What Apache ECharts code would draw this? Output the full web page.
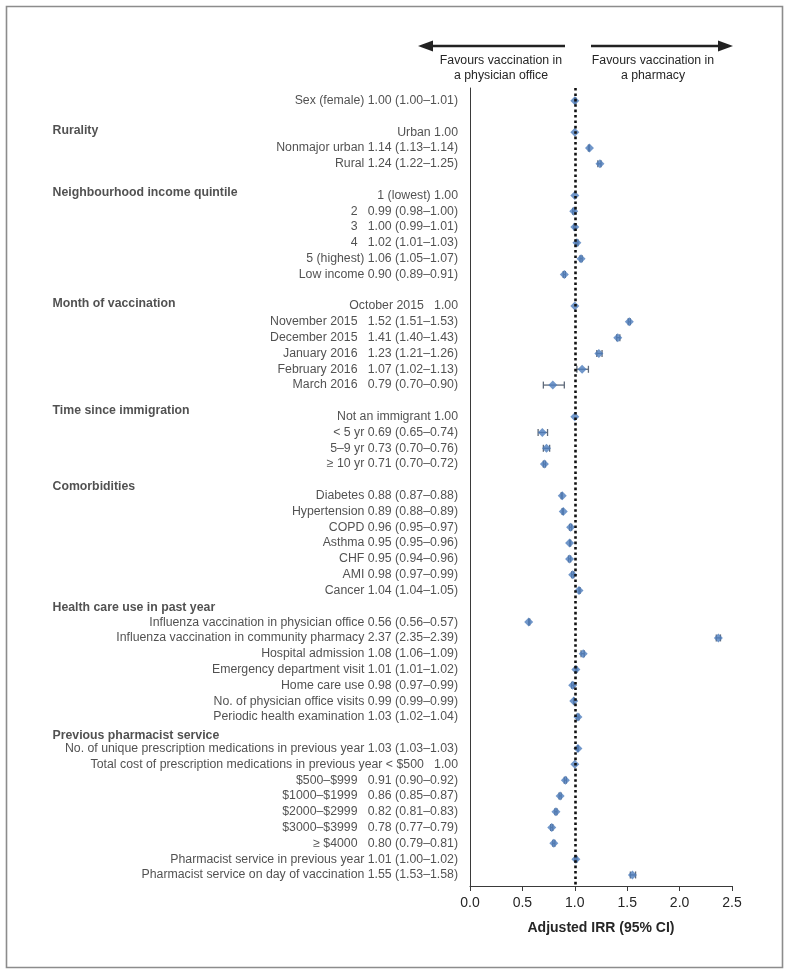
<!DOCTYPE html>
<html><head><meta charset="utf-8">
<script src="https://cdn.jsdelivr.net/npm/echarts@6/dist/echarts.min.js"></script>
<style>html,body{margin:0;padding:0;background:#fff}#c{width:791px;height:976px}</style>
</head><body><div id="c"></div>
<script>
// ---- Data (row order top to bottom; null = blank/header row) ----
const rowNames = [
  'Sex (female) ', null,
  'Urban ', 'Nonmajor urban ', 'Rural ', null,
  '1 (lowest) ', '2   ', '3   ', '4   ', '5 (highest) ', 'Low income ', null,
  'October 2015   ', 'November 2015   ', 'December 2015   ', 'January 2016   ', 'February 2016   ', 'March 2016   ', null,
  'Not an immigrant ', '< 5 yr ', '5\u20139 yr ', '\u2265 10 yr ', null,
  'Diabetes ', 'Hypertension ', 'COPD ', 'Asthma ', 'CHF ', 'AMI ', 'Cancer ', null,
  'Influenza vaccination in physician office ', 'Influenza vaccination in community pharmacy ', 'Hospital admission ',
  'Emergency department visit ', 'Home care use ', 'No. of physician office visits ', 'Periodic health examination ', null,
  'No. of unique prescription medications in previous year ', 'Total cost of prescription medications in previous year < $500   ',
  '$500\u2013$999   ', '$1000\u2013$1999   ', '$2000\u2013$2999   ', '$3000\u2013$3999   ', '\u2265 $4000   ',
  'Pharmacist service in previous year ', 'Pharmacist service on day of vaccination '
];
const irr = [
  1.00, null,
  1.00, 1.14, 1.24, null,
  1.00, 0.99, 1.00, 1.02, 1.06, 0.90, null,
  1.00, 1.52, 1.41, 1.23, 1.07, 0.79, null,
  1.00, 0.69, 0.73, 0.71, null,
  0.88, 0.89, 0.96, 0.95, 0.95, 0.98, 1.04, null,
  0.56, 2.37, 1.08, 1.01, 0.98, 0.99, 1.03, null,
  1.03, 1.00, 0.91, 0.86, 0.82, 0.78, 0.80, 1.01, 1.55
];
const ciLow = [
  1.00, null,
  null, 1.13, 1.22, null,
  null, 0.98, 0.99, 1.01, 1.05, 0.89, null,
  null, 1.51, 1.40, 1.21, 1.02, 0.70, null,
  null, 0.65, 0.70, 0.70, null,
  0.87, 0.88, 0.95, 0.95, 0.94, 0.97, 1.04, null,
  0.56, 2.35, 1.06, 1.01, 0.97, 0.99, 1.02, null,
  1.03, null, 0.90, 0.85, 0.81, 0.77, 0.79, 1.00, 1.53
];
const ciHigh = [
  1.01, null,
  null, 1.14, 1.25, null,
  null, 1.00, 1.01, 1.03, 1.07, 0.91, null,
  null, 1.53, 1.43, 1.26, 1.13, 0.90, null,
  null, 0.74, 0.76, 0.72, null,
  0.88, 0.89, 0.97, 0.96, 0.96, 0.99, 1.05, null,
  0.57, 2.39, 1.09, 1.02, 0.99, 0.99, 1.04, null,
  1.03, null, 0.92, 0.87, 0.83, 0.79, 0.81, 1.02, 1.58
];
const groupHeaders = ['Rurality', 'Neighbourhood income quintile', 'Month of vaccination',
  'Time since immigration', 'Comorbidities', 'Health care use in past year', 'Previous pharmacist service'];
const headerRow = [1.9, 5.85, 12.85, 19.6, 24.4, 32.1, 40.2];
const xTickLabels = ['0.0', '0.5', '1.0', '1.5', '2.0', '2.5'];

// ---- Build series data ----
const FONT = "'Liberation Sans', Arial, Helvetica, sans-serif";
const TXT = '#262626';
const FS = 12.3;
const fmt = v => v.toFixed(2);
const pointData = [], ciData = [], labelData = [];
rowNames.forEach((n, i) => {
  if (n === null) return;
  let t = n + fmt(irr[i]);
  if (ciLow[i] !== null) {
    t += ' (' + fmt(ciLow[i]) + '\u2013' + fmt(ciHigh[i]) + ')';
    ciData.push([ciLow[i], ciHigh[i], i]);
  }
  pointData.push([irr[i], i]);
  labelData.push([0, i, t]);
});
const headerData = groupHeaders.map((h, k) => [0, headerRow[k], h]);

const chart = echarts.init(document.getElementById('c'), null, {renderer: 'canvas'});
chart.setOption({
  animation: false,
  backgroundColor: '#fff',
  grid: {left: 470, right: 59, top: 88, bottom: 90, containLabel: false},
  xAxis: {
    type: 'value', min: 0, max: 2.5, interval: 0.5,
    axisLine: {show: true, onZero: false, lineStyle: {color: '#3a3a3a', width: 1}},
    axisTick: {show: true, length: 5, lineStyle: {color: '#3a3a3a'}},
    splitLine: {show: false},
    axisLabel: {color: TXT, fontSize: 14, fontFamily: FONT, margin: 10,
      formatter: (v) => xTickLabels[Math.round(v / 0.5)]},
    name: 'Adjusted IRR (95% CI)', nameLocation: 'middle', nameGap: 35,
    nameTextStyle: {color: TXT, fontSize: 14, fontWeight: 'bold', fontFamily: FONT}
  },
  yAxis: {
    type: 'value', inverse: true, min: -0.8, max: 49.7,
    axisLine: {show: true, onZero: false, lineStyle: {color: '#3a3a3a', width: 1}},
    axisTick: {show: false}, axisLabel: {show: false}, splitLine: {show: false}
  },
  series: [
    {
      type: 'custom', name: 'ci', data: ciData, clip: false, z: 3,
      encode: {x: [0, 1], y: 2},
      renderItem: (params, api) => {
        const a = api.coord([api.value(0), api.value(2)]);
        const b = api.coord([api.value(1), api.value(2)]);
        const h = 3.5;
        const st = {stroke: '#5f6a7a', lineWidth: 1.3};
        return {type: 'group', children: [
          {type: 'line', shape: {x1: a[0], y1: a[1], x2: b[0], y2: b[1]}, style: st},
          {type: 'line', shape: {x1: a[0], y1: a[1] - h, x2: a[0], y2: a[1] + h}, style: st},
          {type: 'line', shape: {x1: b[0], y1: b[1] - h, x2: b[0], y2: b[1] + h}, style: st}
        ]};
      }
    },
    {
      type: 'scatter', name: 'IRR', data: pointData, symbol: 'diamond', symbolSize: 9,
      itemStyle: {color: '#4d7dbd'}, z: 4, clip: false,
      markLine: {
        silent: true, symbol: 'none', label: {show: false},
        lineStyle: {color: '#111', width: 2.6, type: [2.6, 2.8]},
        data: [{xAxis: 1}]
      }
    },
    {
      type: 'scatter', name: 'labels', data: labelData, symbolSize: 1, clip: false, silent: true,
      itemStyle: {color: 'transparent'},
      label: {show: true, position: 'left', distance: 11.5, color: TXT, fontSize: FS, fontFamily: FONT,
        formatter: p => p.data[2]}
    },
    {
      type: 'scatter', name: 'headers', data: headerData, symbolSize: 1, clip: false, silent: true,
      itemStyle: {color: 'transparent'},
      label: {show: true, position: [-417, 0.5], align: 'left', verticalAlign: 'middle',
        color: TXT, fontSize: FS, fontWeight: 'bold', fontFamily: FONT,
        formatter: p => p.data[2]}
    }
  ],
  graphic: [
    {type: 'rect', shape: {x: 6.5, y: 6.5, width: 776, height: 961}, style: {fill: 'none', stroke: '#8c8c8c', lineWidth: 1.6}, silent: true},
    {type: 'line', shape: {x1: 565, y1: 46, x2: 430, y2: 46}, style: {stroke: '#222', lineWidth: 2.4}},
    {type: 'polygon', shape: {points: [[418, 46], [433, 40.5], [433, 51.5]]}, style: {fill: '#222'}},
    {type: 'line', shape: {x1: 591, y1: 46, x2: 721, y2: 46}, style: {stroke: '#222', lineWidth: 2.4}},
    {type: 'polygon', shape: {points: [[733, 46], [718, 40.5], [718, 51.5]]}, style: {fill: '#222'}},
    {type: 'text', x: 501, y: 53, style: {text: 'Favours vaccination in\na physician office', align: 'center',
      fill: TXT, font: FS + 'px ' + FONT, lineHeight: 15}},
    {type: 'text', x: 653, y: 53, style: {text: 'Favours vaccination in\na pharmacy', align: 'center',
      fill: TXT, font: FS + 'px ' + FONT, lineHeight: 15}}
  ]
});
</script></body></html>
